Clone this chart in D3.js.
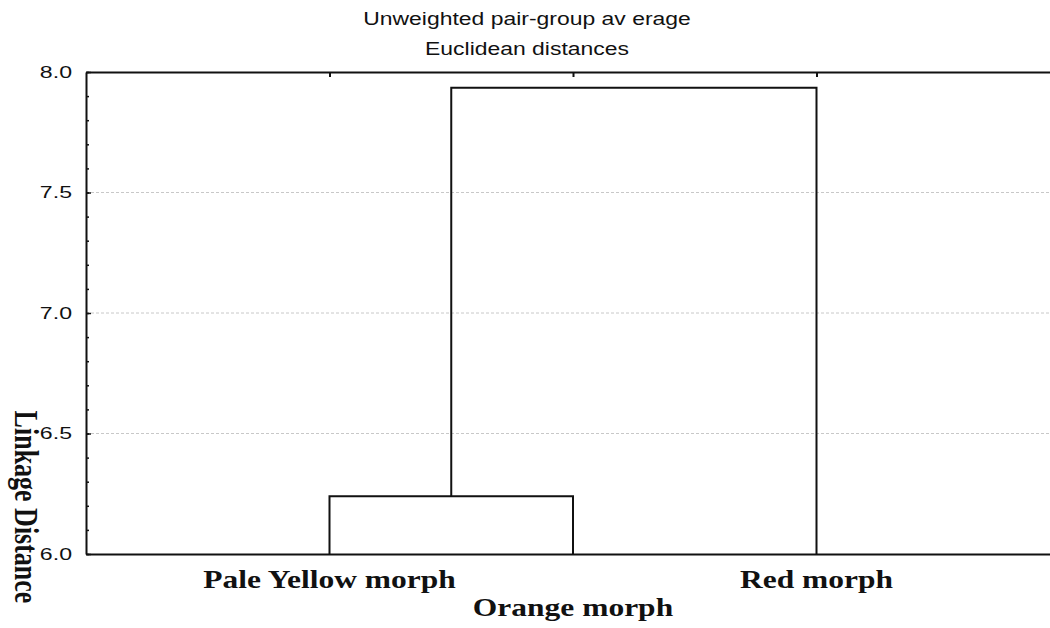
<!DOCTYPE html>
<html>
<head>
<meta charset="utf-8">
<script src="https://cdn.jsdelivr.net/npm/d3@7"></script>
<style>
  body { margin: 0; background: #fff; }
  svg { display: block; }
  .serif { font-family: "Liberation Serif", "Times New Roman", serif; font-weight: bold; }
  .sans { font-family: "Liberation Sans", Arial, sans-serif; }
</style>
</head>
<body>
<svg id="chart" width="1050" height="628"></svg>
<script>
// leaves of the tree, left to right
const leafLabels = ['Pale Yellow morph', 'Orange morph', 'Red morph'];
// merges: node ids 0..2 are leaves, merge i creates node 3 + i
const mergeLeft = [0, 3];
const mergeRight = [1, 2];
const mergeHeights = [6.24, 7.935];
const yTicks = [6.0, 6.5, 7.0, 7.5, 8.0];
const titleLines = ['Unweighted pair-group av erage', 'Euclidean distances'];
const yTitle = 'Linkage Distance';

const W = 1050;
const plotLeft = 86, plotTop = 72, plotBottom = 554, plotRight = 1060;
const stretch = 1.26; // picture is wider than its fonts

const svg = d3.select('#chart');

const x = d3.scalePoint().domain(leafLabels).range([plotLeft, plotRight]).padding(1);
const y = d3.scaleLinear().domain([6, 8]).range([plotBottom, plotTop]);

// grid
svg.append('g')
  .selectAll('line')
  .data(yTicks.filter(d => d > 6 && d < 8))
  .enter().append('line')
  .attr('x1', plotLeft).attr('x2', W)
  .attr('y1', d => y(d)).attr('y2', d => y(d))
  .attr('stroke', '#c8c8c8')
  .attr('stroke-dasharray', '3,2')
  .attr('stroke-width', 1);

// positions of each node (leaves then merges)
const nodeX = leafLabels.map(d => x(d));
const nodeH = leafLabels.map(() => 6);
const links = [];
mergeHeights.forEach((h, i) => {
  const a = mergeLeft[i], b = mergeRight[i];
  links.push([[nodeX[a], nodeH[a]], [nodeX[a], h], [nodeX[b], h], [nodeX[b], nodeH[b]]]);
  nodeX.push((nodeX[a] + nodeX[b]) / 2);
  nodeH.push(h);
});

const line = d3.line().x(d => d[0]).y(d => y(d[1]));
svg.append('g')
  .selectAll('path')
  .data(links)
  .enter().append('path')
  .attr('d', line)
  .attr('fill', 'none')
  .attr('stroke', '#111')
  .attr('stroke-width', 2);

// left axis, ticks pointing inward
const minor = svg.append('g').attr('transform', `translate(${plotLeft},0)`)
  .call(d3.axisLeft(y).tickValues(d3.range(60, 81).map(v => v / 10)).tickSize(-3).tickFormat(''));
minor.select('.domain').remove();
minor.selectAll('line').attr('stroke', '#111').attr('stroke-width', 1.5);

const yAxis = svg.append('g').attr('transform', `translate(${plotLeft},0)`)
  .call(d3.axisLeft(y).tickValues(yTicks).tickSize(-5).tickSizeOuter(0).tickFormat(d3.format('.1f')));
yAxis.select('.domain').attr('stroke', '#111').attr('stroke-width', 2);
yAxis.selectAll('line').attr('stroke', '#111').attr('stroke-width', 1.5);
yAxis.selectAll('text')
  .attr('class', 'sans')
  .attr('x', 0)
  .attr('transform', `translate(-14,0) scale(${stretch + 0.1},1)`)
  .style('font-size', '17px')
  .attr('fill', '#111');

// top frame with leaf ticks
const topAxis = svg.append('g').attr('transform', `translate(0,${plotTop})`)
  .call(d3.axisTop(x).tickSize(-5).tickSizeOuter(0).tickFormat(''));
topAxis.select('.domain').attr('stroke', '#111').attr('stroke-width', 2);
topAxis.selectAll('line').attr('stroke', '#111').attr('stroke-width', 2);

// bottom frame
const bottomAxis = svg.append('g').attr('transform', `translate(0,${plotBottom})`)
  .call(d3.axisBottom(x).tickSize(0).tickFormat(''));
bottomAxis.select('.domain').attr('stroke', '#111').attr('stroke-width', 2);

// leaf labels, staggered in two rows
svg.append('g')
  .selectAll('text')
  .data(leafLabels)
  .enter().append('text')
  .attr('class', 'serif')
  .attr('text-anchor', 'middle')
  .attr('transform', (d, i) => `translate(${x(d)},${i % 2 ? 616 : 588}) scale(${stretch},1)`)
  .style('font-size', '25px')
  .attr('fill', '#111')
  .text(d => d);

// titles
svg.append('g')
  .selectAll('text')
  .data(titleLines)
  .enter().append('text')
  .attr('class', 'sans')
  .attr('text-anchor', 'middle')
  .attr('transform', (d, i) => `translate(527,${25 + i * 30}) scale(${stretch - 0.02},1)`)
  .style('font-size', '18.5px')
  .attr('fill', '#111')
  .text(d => d);

// y title, reads top to bottom
svg.append('text')
  .attr('class', 'serif')
  .attr('text-anchor', 'middle')
  .attr('transform', `translate(15,507) scale(${stretch},1) rotate(90)`)
  .style('font-size', '26px')
  .attr('fill', '#111')
  .text(yTitle);
</script>
</body>
</html>
